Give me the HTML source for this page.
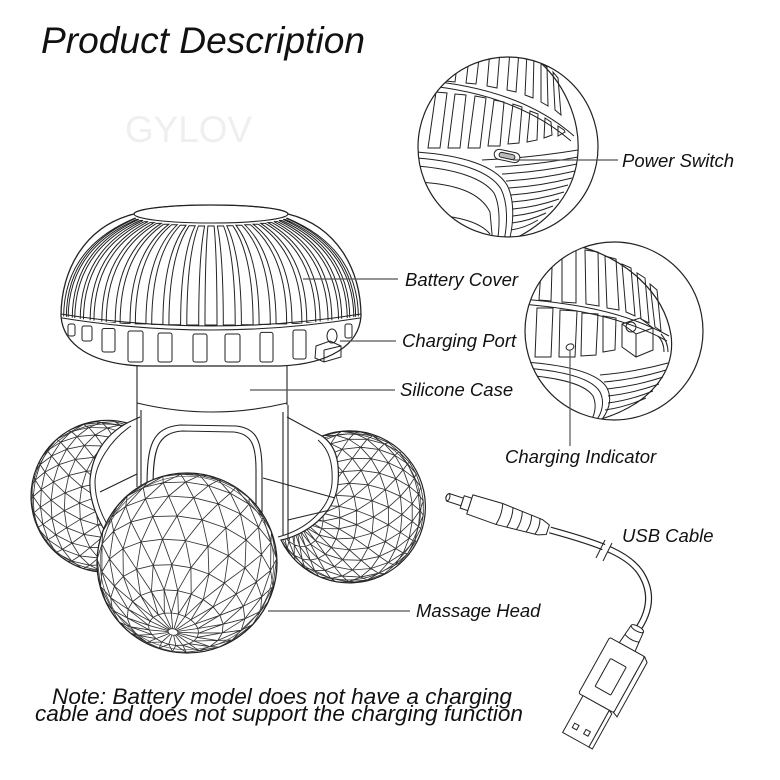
<!DOCTYPE html>
<html><head><meta charset="utf-8">
<style>
html,body{margin:0;padding:0;background:#fff;}
svg{display:block;}
text{font-family:"Liberation Sans",Arial,sans-serif;font-style:italic;fill:#111;}
.ns *{vector-effect:non-scaling-stroke;}
</style></head><body>
<svg width="780" height="780" viewBox="0 0 780 780" xmlns="http://www.w3.org/2000/svg">
<defs>
 <pattern id="tri" width="20" height="34.64" patternUnits="userSpaceOnUse" patternTransform="rotate(8)">
  <path d="M0 0H20M0 17.32H20M0 34.64H20M0 0L20 34.64M20 0L0 34.64" stroke="#333" stroke-width="0.9" fill="none"/>
 </pattern>
 <pattern id="triL" width="15" height="25.98" patternUnits="userSpaceOnUse" patternTransform="rotate(-18)">
  <path d="M0 0H15M0 12.99H15M0 25.98H15M0 0L15 25.98M15 0L0 25.98" stroke="#333" stroke-width="0.85" fill="none"/>
 </pattern>
 <pattern id="triR" width="15" height="25.98" patternUnits="userSpaceOnUse" patternTransform="rotate(22)">
  <path d="M0 0H15M0 12.99H15M0 25.98H15M0 0L15 25.98M15 0L0 25.98" stroke="#333" stroke-width="0.85" fill="none"/>
 </pattern>
 <clipPath id="dome"><path d="M61 316 C61 270 85 226 134 214 L288 214 C337 226 361 270 361 316 Q211 340 61 316Z"/></clipPath>
 <clipPath id="lbc"><path d="M127 423 A76 76 0 1 0 135 567 C110 545 88 510 90 480 C92 455 105 435 127 423Z"/></clipPath>
 <clipPath id="rbc"><path d="M322 436 A76 76 0 1 1 281 540 C305 535 335 515 338 483 C340 460 335 445 322 436Z"/></clipPath>
 <clipPath id="fbc"><circle cx="187" cy="563" r="89.5"/></clipPath>
 <clipPath id="in1"><circle cx="508" cy="147" r="90"/></clipPath>
 <clipPath id="in2"><circle cx="614" cy="331" r="89"/></clipPath>
</defs>

<rect width="780" height="780" fill="#fff"/>

<!-- Title & watermark -->
<text x="41" y="53" font-size="37" textLength="324" lengthAdjust="spacingAndGlyphs" fill="#000">Product Description</text>
<text x="125" y="142" font-size="37" textLength="127" lengthAdjust="spacingAndGlyphs" style="font-style:normal;fill:#efefef">GYLOV</text>

<!-- ===== Stem / body ===== -->
<g fill="none" stroke="#222" stroke-width="1.1">
 <path d="M137 360 L137 487 M141 410 L141 487"/>
 <path d="M287 360 L287 405 M283 412 L283 535 M288 405 L288 538"/>
 <path d="M137 403 Q212 421 287 403"/>
 <path d="M147 487 C147 445 152 428 180 425 L236 426 C256 428 262 440 262 470 L262 515"/>
 <path d="M153 487 C153 448 158 433 182 431 L234 432 C251 434 256 444 256 470 L256 515"/>
 <path d="M127 423 L140 417 M100 492 L137 474 M108 522 L147 500"/>
 <path d="M287 417 L322 436 M263 478 L335 498 M288 520 L330 510"/>
</g>

<!-- ===== Left ball ===== -->
<path d="M127 423 A76 76 0 1 0 135 567 C110 545 88 510 90 480 C92 455 105 435 127 423Z" fill="#fff"/>
<g id="lbfb">
 <path d="M127 423 A76 76 0 1 0 135 567 C110 545 88 510 90 480 C92 455 105 435 127 423Z" fill="url(#triL)"/>
 <g clip-path="url(#lbc)" fill="none" stroke="#333" stroke-width="0.8"><circle cx="105" cy="497" r="64"/></g>
</g>
<g id="lbm" clip-path="url(#lbc)"></g>
<g clip-path="url(#lbc)" fill="none" stroke="#333" stroke-width="0.7"><circle cx="105" cy="497" r="73"/></g>
<path d="M127 423 A76 76 0 1 0 135 567 C110 545 88 510 90 480 C92 455 105 435 127 423Z" fill="none" stroke="#222" stroke-width="1.2"/>
<path d="M131 426 C110 440 95 465 95 482 C95 510 112 540 140 562" fill="none" stroke="#222" stroke-width="1"/>

<!-- ===== Right ball ===== -->
<path d="M322 436 A76 76 0 1 1 281 540 C305 535 335 515 338 483 C340 460 335 445 322 436Z" fill="#fff"/>
<g id="rbfb">
 <path d="M322 436 A76 76 0 1 1 281 540 C305 535 335 515 338 483 C340 460 335 445 322 436Z" fill="url(#triR)"/>
 <g clip-path="url(#rbc)" fill="none" stroke="#333" stroke-width="0.8"><circle cx="348" cy="507" r="64"/></g>
</g>
<g id="rbm" clip-path="url(#rbc)"></g>
<g clip-path="url(#rbc)" fill="none" stroke="#333" stroke-width="0.7"><circle cx="348" cy="507" r="73"/></g>
<path d="M322 436 A76 76 0 1 1 281 540 C305 535 335 515 338 483 C340 460 335 445 322 436Z" fill="none" stroke="#222" stroke-width="1.2"/>
<path d="M318 440 C330 450 333 465 332 483 C330 510 305 530 278 537" fill="none" stroke="#222" stroke-width="1"/>

<!-- ===== Front ball ===== -->
<circle cx="187" cy="563" r="90" fill="#fff"/>
<g id="fbfb">
<circle cx="187" cy="563" r="90" fill="url(#tri)"/>
<g class="ns" transform="translate(187 563) rotate(11.5) scale(1 0.623)" fill="none" stroke="#333" stroke-width="0.9">
 <circle cx="0" cy="86.6" r="57.9" fill="#fff"/>
 <circle cx="0" cy="98.9" r="43.6"/>
 <circle cx="0" cy="107.6" r="27.8"/>
 <circle cx="0" cy="112" r="12.5"/>
 <path d="M0 113.1L57.9 86.6M0 113.1L55.9 71.6M0 113.1L50.1 57.6M0 113.1L40.9 45.7M0 113.1L29 36.5M0 113.1L15 30.7M0 113.1L0 28.7M0 113.1L-15 30.7M0 113.1L-29 36.5M0 113.1L-40.9 45.7M0 113.1L-50.1 57.6M0 113.1L-55.9 71.6M0 113.1L-57.9 86.6M0 113.1L-55.9 101.6M0 113.1L-50.1 115.6M0 113.1L-40.9 127.5M0 113.1L-29 136.7M0 113.1L-15 142.5M0 113.1L0 144.5M0 113.1L15 142.5M0 113.1L29 136.7M0 113.1L40.9 127.5M0 113.1L50.1 115.6M0 113.1L55.9 101.6"/>
</g>
</g>
<g id="fbm" clip-path="url(#fbc)"></g>
<ellipse cx="173" cy="632" rx="5" ry="3.2" transform="rotate(11.5 173 632)" fill="#fff" stroke="#333" stroke-width="0.8"/>
<circle cx="187" cy="563" r="86.8" fill="none" stroke="#444" stroke-width="0.7"/>
<circle cx="187" cy="563" r="90" fill="none" stroke="#222" stroke-width="1.3"/>

<!-- ===== Cap ===== -->
<path d="M61 316 C61 270 85 226 134 214 A77 9 0 0 1 288 214 C337 226 361 270 361 316 C359 345 330 364 280 366 L142 366 C92 364 63 345 61 316Z" fill="#fff" stroke="#222" stroke-width="1.3"/>
<ellipse cx="211" cy="214" rx="77" ry="9" fill="none" stroke="#222" stroke-width="1.1"/>
<g clip-path="url(#dome)" fill="none" stroke="#222" stroke-width="1">
 <path d="M207.9 226 Q205 256 205 325 L217 325 Q217 256 214.1 226Z"/>
 <path d="M217.4 226 Q223.3 256 223.3 325 L235.2 325 Q235.2 256 223.6 226Z"/>
 <path d="M204.6 226 Q198.7 256 198.7 325 L186.8 325 Q186.8 256 198.4 226Z"/>
 <path d="M226.8 225.7 Q241.4 255.7 241.4 324.7 L253.1 324.7 Q253.1 255.7 232.9 225.7Z"/>
 <path d="M195.2 225.7 Q180.6 255.7 180.6 324.7 L168.9 324.7 Q168.9 255.7 189.1 225.7Z"/>
 <path d="M236 225.3 Q259.1 255.3 259.1 324.4 L270.3 324.4 Q270.3 255.3 241.8 225.3Z"/>
 <path d="M186 225.3 Q162.9 255.3 162.9 324.4 L151.7 324.4 Q151.7 255.3 180.2 225.3Z"/>
 <path d="M244.8 224.8 Q276.1 254.8 276.1 323.9 L286.7 323.9 Q286.7 254.8 250.4 224.8Z"/>
 <path d="M177.2 224.8 Q145.9 254.8 145.9 323.9 L135.3 323.9 Q135.3 254.8 171.6 224.8Z"/>
 <path d="M253.1 224.2 Q292 254.2 292 323.4 L301.9 323.4 Q301.9 254.2 258.3 224.2Z"/>
 <path d="M168.9 224.2 Q130 254.2 130 323.4 L120.1 323.4 Q120.1 254.2 163.7 224.2Z"/>
 <path d="M260.8 223.4 Q306.8 253.4 306.8 322.7 L315.8 322.7 Q315.8 253.4 265.5 223.4Z"/>
 <path d="M161.2 223.4 Q115.2 253.4 115.2 322.7 L106.2 322.7 Q106.2 253.4 156.5 223.4Z"/>
 <path d="M267.8 222.6 Q320.2 252.6 320.2 321.9 L328.1 321.9 Q328.1 252.6 271.9 222.6Z"/>
 <path d="M154.2 222.6 Q101.8 252.6 101.8 321.9 L93.9 321.9 Q93.9 252.6 150.1 222.6Z"/>
 <path d="M273.9 221.6 Q331.9 251.6 331.9 321 L338.6 321 Q338.6 251.6 277.4 221.6Z"/>
 <path d="M148.1 221.6 Q90.1 251.6 90.1 321 L83.4 321 Q83.4 251.6 144.6 221.6Z"/>
 <path d="M279 220.5 Q341.8 250.5 341.8 320.1 L347.3 320.1 Q347.3 250.5 281.9 220.5Z"/>
 <path d="M143 220.5 Q80.2 250.5 80.2 320.1 L74.7 320.1 Q74.7 250.5 140.1 220.5Z"/>
 <path d="M283.2 219.4 Q349.8 249.4 349.8 319.1 L353.9 319.1 Q353.9 249.4 285.3 219.4Z"/>
 <path d="M138.8 219.4 Q72.2 249.4 72.2 319.1 L68.1 319.1 Q68.1 249.4 136.7 219.4Z"/>
 <path d="M286.2 218.3 Q355.7 248.3 355.7 318 L358.4 318 Q358.4 248.3 287.6 218.3Z"/>
 <path d="M135.8 218.3 Q66.3 248.3 66.3 318 L63.6 318 Q63.6 248.3 134.4 218.3Z"/>
</g>
<path d="M61 314 Q211 338 361 314 M62 318 Q211 342 360 318" fill="none" stroke="#222" stroke-width="1.1"/>
<g fill="none" stroke="#222" stroke-width="1">
 <rect x="68" y="324" width="7" height="12" rx="2"/>
 <rect x="82" y="326" width="10" height="15" rx="2"/>
 <rect x="102" y="328.5" width="13" height="23.5" rx="2"/>
 <rect x="128" y="331" width="15" height="31" rx="2"/>
 <rect x="158" y="333" width="14" height="29" rx="2"/>
 <rect x="193" y="334" width="14" height="28" rx="2"/>
 <rect x="225" y="334" width="15" height="28" rx="2"/>
 <rect x="260" y="332.4" width="13" height="29.6" rx="2"/>
 <rect x="293" y="330" width="13" height="29" rx="2"/>
 <rect x="345" y="324" width="7" height="14" rx="2"/>
 <!-- charging port -->
 <ellipse cx="332" cy="336" rx="5" ry="7"/>
 <path d="M316 346 L330 341 L341 346 L341 357 L324 362 L315 358Z M324 350 L341 346 M324 350 L324 362"/>
</g>

<!-- ===== Inset 1 (Power switch) ===== -->
<circle cx="508" cy="147" r="90" fill="#fff"/>
<g clip-path="url(#in1)" fill="none" stroke="#222" stroke-width="1">
 <path d="M535 58 C563 80 580 118 578 152 C576 190 552 222 508 242" stroke-width="1.2"/>
 <path d="M420 80 C470 84 530 97 574 136 M420 85 C468 89 526 102 571 141"/>
 <path d="M450 50 L446 81 L455 82 L459 50Z M470 50 L466 83 L476 84 L480 50Z M490 50 L487 86 L497 88 L500 50Z M510 50 L507 90 L516 92 L519 50Z M527 52 L525 95 L533 98 L534 55Z M541 62 L541 102 L548 106 L547 67Z M553 72 L555 110 L561 115 L558 78Z"/>
 <path d="M436 92 L428 148 L440 148 L447 93Z M455 94 L448 148 L460 148 L466 95Z M475 96 L468 148 L480 148 L486 98Z M494 100 L488 146 L500 146 L504 102Z M513 104 L508 144 L519 143 L522 107Z M530 111 L527 142 L537 140 L538 114Z M545 118 L544 138 L552 135 L551 122Z M558 126 L558 136 L565 132 L564 130Z"/>
 <path d="M416 152 C460 155 495 165 507 185 C515 200 514 225 508 245 M416 158 C458 161 490 171 501 189 C508 203 508 225 503 245 M416 166 C455 169 483 178 494 193 C500 205 500 225 497 245"/>
 <path d="M418 182 C455 184 480 192 490 212 L493 245 M430 214 C460 217 480 222 490 234"/>
 <path d="M482 160 Q530 158 578 150 M495 167 Q537 165 578 157 M502 174 Q540 172 577 164 M506 181 Q541 179 575 171 M509 188 Q541 186 572 178 M511 195 Q540 193 568 185 M512 202 Q538 200 564 192 M513 209 Q536 207 559 199 M513 216 Q533 214 553 206 M512 223 Q529 221 546 213 M511 230 Q525 228 538 220"/>
 <rect x="494" y="151" width="26" height="10" rx="5" transform="rotate(12 507 156)" fill="#fff"/>
 <rect x="499" y="153.5" width="16" height="5" rx="2.5" transform="rotate(12 507 156)" fill="#bbb"/>
</g>
<circle cx="508" cy="147" r="90" fill="none" stroke="#222" stroke-width="1.2"/>

<!-- ===== Inset 2 (Charging port / indicator) ===== -->
<circle cx="614" cy="331" r="89" fill="#fff"/>
<g clip-path="url(#in2)" fill="none" stroke="#222" stroke-width="1">
 <path d="M578 246 C625 258 664 292 671 335 C676 372 650 405 598 420" stroke-width="1.2"/>
 <path d="M522 299 C568 303 622 310 669 336 M522 304 C566 308 620 315 667 341"/>
 <path d="M541 270 L539 300 L551 301 L552 268Z M562 250 L562 302 L576 303 L576 250Z M585 250 L586 304 L599 306 L598 252Z M605 256 L607 308 L619 310 L616 259Z M622 264 L626 312 L635 316 L631 268Z M637 273 L641 319 L649 323 L645 278Z M650 284 L655 327 L661 331 L657 290Z"/>
 <path d="M537 308 L535 357 L551 357 L553 308Z M560 310 L559 357 L575 357 L577 311Z M582 313 L581 356 L596 355 L598 314Z M603 316 L603 352 L615 350 L616 318Z"/>
 <path d="M622 324 L640 318 L653 328 L653 350 L636 357 L622 347Z M622 324 L636 334 L653 328 M636 334 L636 357"/>
 <circle cx="631" cy="327" r="5"/>
 <path d="M658 336 Q664 342 664 352 M661 334 Q668 342 668 352"/>
 <ellipse cx="570" cy="347" rx="4" ry="3" transform="rotate(-20 570 347)"/>
 <path d="M525 362 C565 365 598 372 607 388 C613 400 608 412 600 422 M525 368 C563 371 592 378 600 392 C605 402 602 414 595 422 M525 375 C560 378 585 384 593 396 C597 405 595 415 590 422"/>
 <path d="M600 375 Q635 372 668 363 M604 382 Q637 379 666 370 M607 389 Q636 386 663 377 M608 396 Q634 393 659 384 M608 403 Q631 400 653 391 M605 410 Q626 407 646 398"/>
</g>
<circle cx="614" cy="331" r="89" fill="none" stroke="#222" stroke-width="1.2"/>

<!-- ===== USB cable ===== -->
<path d="M636 632 C652 610 652 590 640 572 C628 555 605 545 550 530" fill="none" stroke="#222" stroke-width="7"/>
<path d="M636 632 C652 610 652 590 640 572 C628 555 605 545 550 530" fill="none" stroke="#fff" stroke-width="4.6"/>
<path d="M599 556 L607 541 L612 543 L604 559Z" fill="#fff"/>
<path d="M596 558 L605 540 M603 561 L612 543" stroke="#222" stroke-width="1" fill="none"/>
<g transform="translate(447 497) rotate(18)" fill="#fff" stroke="#222" stroke-width="1">
 <path d="M1 -4 L16 -4 L16 4 L1 4 Q-3 0 1 -4Z"/>
 <ellipse cx="1" cy="0" rx="1.8" ry="3.5"/>
 <rect x="16" y="-6.5" width="8" height="13"/>
 <path d="M24 -10 L55 -11 L98 -8 L106 -5 L106 5 L98 8 L55 11 L24 10Z"/>
 <path d="M55 -11 Q58 0 55 11 M66 -10.5 Q69 0 66 10.5 M76 -10 Q79 0 76 10 M86 -9 Q89 0 86 9 M95 -8.5 Q98 0 95 8.5" fill="none"/>
</g>
<g transform="translate(600 696) rotate(29)" fill="#fff" stroke="#222" stroke-width="1">
 <path d="M-7 -77 L7 -77 L9 -56 L-9 -56Z"/>
 <ellipse cx="0" cy="-77" rx="7" ry="2.5"/>
 <path d="M-8 -66 Q0 -63 8 -66" fill="none"/>
 <path d="M20 -56 L25 -52 L25 10 L20 8Z"/>
 <rect x="-20" y="-56" width="40" height="64" rx="2"/>
 <rect x="-9" y="-38" width="18" height="32" rx="1"/>
 <path d="M15 8 L19 10 L19 50 L15 50Z"/>
 <rect x="-15" y="8" width="30" height="42"/>
 <rect x="-9" y="36" width="5" height="5"/>
 <rect x="4" y="36" width="5" height="5"/>
</g>

<!-- ===== Leader lines ===== -->
<g stroke="#555" stroke-width="1.2" fill="none">
 <path d="M513 160 H618"/>
 <path d="M303 279 H398"/>
 <path d="M340 341 H396"/>
 <path d="M250 390 H395"/>
 <path d="M570 350 V446"/>
 <path d="M268 611 H410"/>
</g>

<!-- ===== Labels ===== -->
<g font-size="18.5">
 <text x="622" y="167">Power Switch</text>
 <text x="405" y="286">Battery Cover</text>
 <text x="402" y="347">Charging Port</text>
 <text x="400" y="396">Silicone Case</text>
 <text x="505" y="463">Charging Indicator</text>
 <text x="622" y="542">USB Cable</text>
 <text x="416" y="617">Massage Head</text>
</g>

<!-- ===== Note ===== -->
<text x="52" y="704" font-size="22" textLength="460" lengthAdjust="spacingAndGlyphs" fill="#000">Note: Battery model does not have a charging</text>
<text x="35" y="721" font-size="22" textLength="488" lengthAdjust="spacingAndGlyphs" fill="#000">cable and does not support the charging function</text>
</svg>
<script>
(function(){
function nz(v){var l=Math.sqrt(v[0]*v[0]+v[1]*v[1]+v[2]*v[2]);return [v[0]/l,v[1]/l,v[2]/l];}
function cr(a,b){return [a[1]*b[2]-a[2]*b[1],a[2]*b[0]-a[0]*b[2],a[0]*b[1]-a[1]*b[0]];}
function mesh(gid,fid,cx,cy,r,ax,nLat,nLon,tw){
 var g=document.getElementById(gid);if(!g)return;
 var a=nz(ax),t=Math.abs(a[2])<0.9?[0,0,1]:[1,0,0];
 var u=nz(cr(a,t)),v=cr(a,u),P=[],i,j;
 for(i=0;i<=nLat;i++){
  var th=i*Math.PI/nLat,c=Math.cos(th),s=Math.sin(th),row=[];
  for(j=0;j<nLon;j++){
   var ps=(j+(i%2)*0.5)*2*Math.PI/nLon+tw,cp=Math.cos(ps),sp=Math.sin(ps);
   row.push([c*a[0]+s*(cp*u[0]+sp*v[0]),c*a[1]+s*(cp*u[1]+sp*v[1]),c*a[2]+s*(cp*u[2]+sp*v[2])]);
  }
  P.push(row);
 }
 var d=[];
 function sg(p,q){
  if(p[2]+q[2]<0.02)return;
  d.push("M"+(cx+r*p[0]).toFixed(1)+" "+(cy+r*p[1]).toFixed(1)+"L"+(cx+r*q[0]).toFixed(1)+" "+(cy+r*q[1]).toFixed(1));
 }
 for(i=1;i<nLat;i++)for(j=0;j<nLon;j++)sg(P[i][j],P[i][(j+1)%nLon]);
 for(i=0;i<nLat;i++)for(j=0;j<nLon;j++){
  sg(P[i][j],P[i+1][j]);
  if(i%2==0)sg(P[i][j],P[i+1][(j-1+nLon)%nLon]);else sg(P[i][j],P[i+1][(j+1)%nLon]);
 }
 var p=document.createElementNS("http://www.w3.org/2000/svg","path");
 p.setAttribute("d",d.join(""));p.setAttribute("fill","none");
 p.setAttribute("stroke","#333");p.setAttribute("stroke-width","0.85");
 g.appendChild(p);
 var f=document.getElementById(fid);if(f)f.style.display="none";
}
try{
 mesh("fbm","fbfb",187,563,90,[-0.156,0.767,0.623],11,22,0.07);
 mesh("lbm","lbfb",105,497,76,[0.7,0.1,0.7],14,26,0.1);
 mesh("rbm","rbfb",348,507,76,[-0.7,0.1,0.7],14,26,0.2);
}catch(e){}
})();
</script>
</body></html>
